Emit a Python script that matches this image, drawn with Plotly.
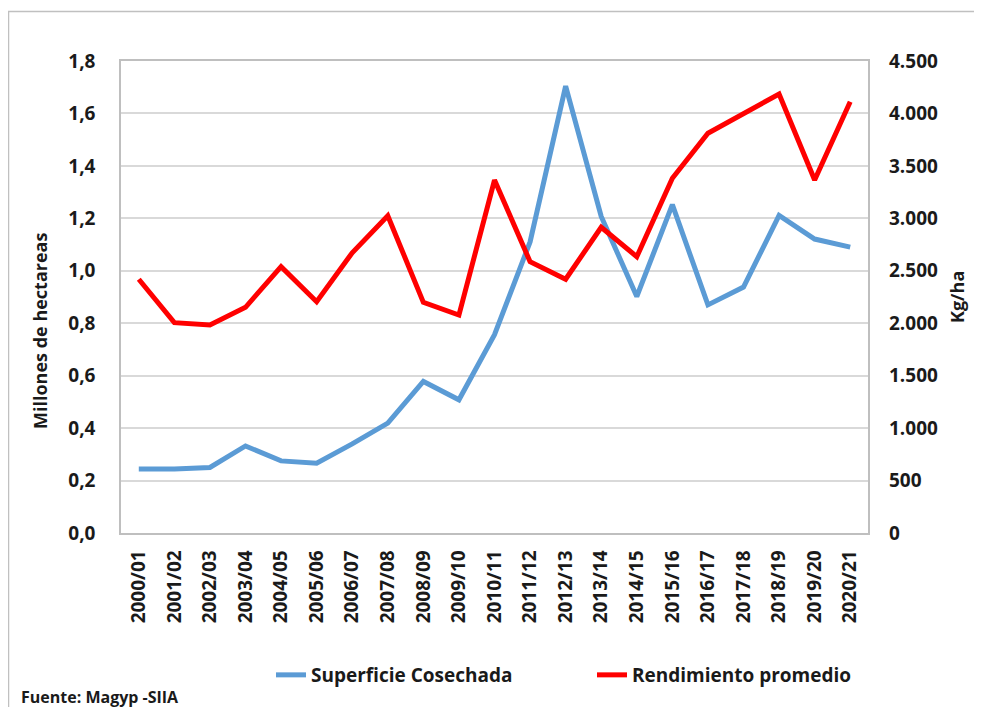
import plotly.graph_objects as go

campanias = ["2000/01", "2001/02", "2002/03", "2003/04", "2004/05", "2005/06", "2006/07",
             "2007/08", "2008/09", "2009/10", "2010/11", "2011/12", "2012/13", "2013/14",
             "2014/15", "2015/16", "2016/17", "2017/18", "2018/19", "2019/20", "2020/21"]
superficie = [0.244, 0.244, 0.25, 0.332, 0.275, 0.266, 0.34, 0.419, 0.578, 0.508, 0.756,
              1.11, 1.704, 1.207, 0.902, 1.252, 0.870, 0.938, 1.211, 1.121, 1.090]
rendimiento = [2419, 2005, 1983, 2152, 2539, 2205, 2672, 3025, 2199, 2078, 3365,
               2587, 2419, 2915, 2634, 3382, 3811, 4001, 4185, 3365, 4112]

left_ticks = [0, 0.2, 0.4, 0.6, 0.8, 1.0, 1.2, 1.4, 1.6, 1.8]
right_ticks = [0, 500, 1000, 1500, 2000, 2500, 3000, 3500, 4000, 4500]

FONT = "Open Sans"
TXT = "#1a1a1a"

fig = go.Figure()
fig.add_trace(go.Scatter(x=campanias, y=superficie, name="Superficie Cosechada",
                         mode="lines", line=dict(color="#5B9BD5", width=5), yaxis="y"))
fig.add_trace(go.Scatter(x=campanias, y=rendimiento, name="Rendimiento promedio",
                         mode="lines", line=dict(color="#FF0000", width=5), yaxis="y2"))

# page body has an 8px margin; figure is sized to fit the window
OFF = 8
W, H = 982 - OFF, 715 - 2 * OFF
PL, PR, PT, PB = 121, 868, 61, 533  # plot box in window pixels
L, R, T, B = PL - OFF, W - (PR - OFF), PT - OFF, H - (PB - OFF)
pw, ph = W - L - R, H - T - B

def px_x(p):
    return (p - PL) / pw

def px_y(p):
    return (PB - p) / ph

fig.update_layout(
    width=W, height=H,
    margin=dict(l=L, r=R, t=T, b=B, pad=0),
    paper_bgcolor="white", plot_bgcolor="white",
    separators=",.",
    font=dict(family=FONT, size=19, color=TXT, weight="bold"),
    showlegend=True,
    legend=dict(orientation="h", x=px_x(271), y=px_y(675), xanchor="left", yanchor="middle",
                font=dict(family=FONT, size=19, color=TXT, weight="bold"),
                entrywidth=276, entrywidthmode="pixels", bgcolor="rgba(0,0,0,0)"),
    xaxis=dict(type="category", range=[-0.5, 20.5], tickangle=-90,
               showgrid=False, showline=True, linecolor="#BFBFBF", linewidth=1.5,
               mirror=True, ticks="", ticklabelstandoff=8,
               tickfont=dict(family=FONT, size=19, color=TXT, weight="bold")),
    yaxis=dict(range=[0, 1.8], tickvals=left_ticks, tickformat=".1f",
               showgrid=True, gridcolor="#D9D9D9", gridwidth=1.5,
               showline=True, linecolor="#BFBFBF", linewidth=1.5, mirror=True,
               zeroline=False, ticks="", ticklabelstandoff=20,
               tickfont=dict(family=FONT, size=19, color=TXT, weight="bold")),
    yaxis2=dict(range=[0, 4500], tickvals=right_ticks, tickformat=",d",
                overlaying="y", side="right", showgrid=False, zeroline=False,
                showline=False, ticks="", ticklabelstandoff=20,
                tickfont=dict(family=FONT, size=19, color=TXT, weight="bold")),
    annotations=[
        dict(text="Millones de hectareas", xref="paper", yref="paper",
             x=px_x(40), y=px_y(331), textangle=-90, showarrow=False,
             xanchor="center", yanchor="middle",
             font=dict(family=FONT, size=18, color=TXT, weight="bold")),
        dict(text="Kg/ha", xref="paper", yref="paper",
             x=px_x(957), y=px_y(297), textangle=-90, showarrow=False,
             xanchor="center", yanchor="middle",
             font=dict(family=FONT, size=18, color=TXT, weight="bold")),
        dict(text="Fuente: Magyp -SIIA", xref="paper", yref="paper",
             x=px_x(19), y=px_y(697), showarrow=False,
             xanchor="left", yanchor="middle",
             font=dict(family=FONT, size=16, color=TXT, weight="bold")),
    ],
    shapes=[
        dict(type="rect", xref="paper", yref="paper",
             x0=px_x(8.5), x1=px_x(1000), y0=px_y(740), y1=px_y(11.5),
             line=dict(color="#C0C0C0", width=1.5), fillcolor="rgba(0,0,0,0)", layer="below"),
    ],
)

fig.write_html("out.html")
